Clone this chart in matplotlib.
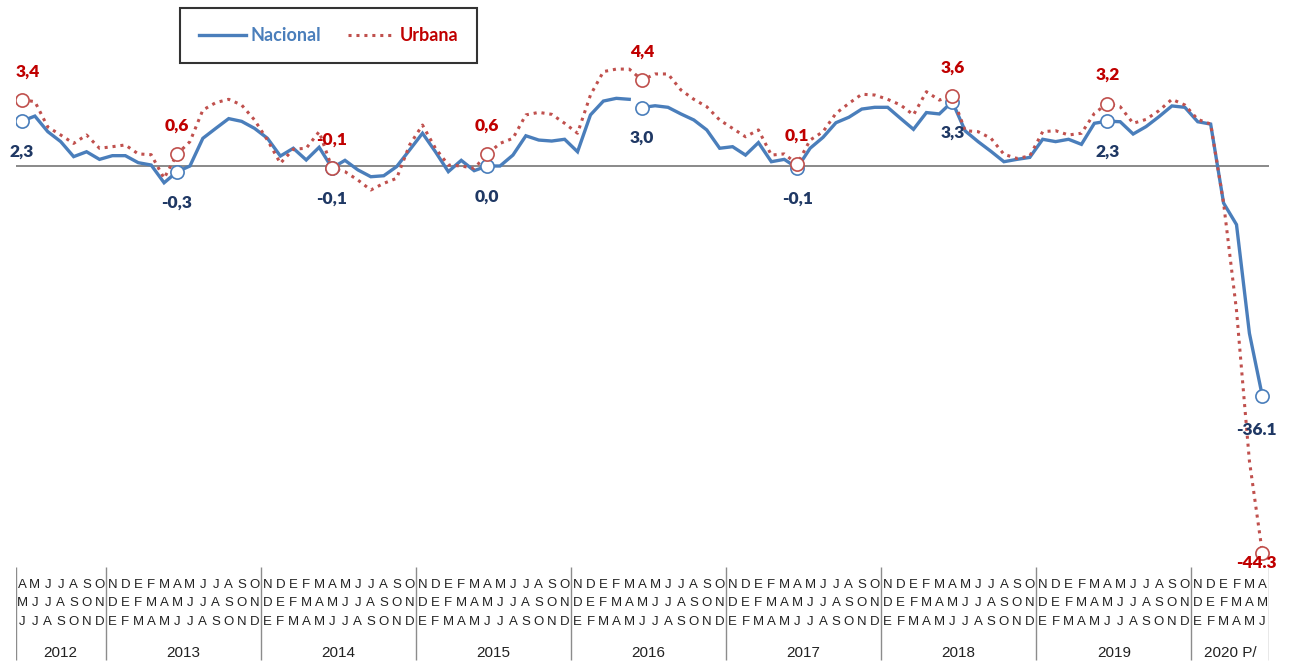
import numpy as np
import matplotlib
matplotlib.use("Agg")
import matplotlib.pyplot as plt

# ---------------- data ----------------
row1 = list("AMJJASO" + "NDEFMAMJJASO" * 7 + "NDEFMA")
row2 = list("MJJASON" + "DEFMAMJJASON" * 7 + "DEFMAM")
row3 = list("JJASOND" + "EFMAMJJASOND" * 7 + "EFMAMJ")
years = ["2012", "2013", "2014", "2015", "2016", "2017", "2018", "2019", "2020 P/"]
year_counts = [7, 12, 12, 12, 12, 12, 12, 12, 6]

nacional = [2.3, 2.56, 1.76, 1.25, 0.48, 0.73, 0.34, 0.53, 0.53, 0.17, 0.05, -0.86,
            -0.3, 0.0, 1.42, 1.93, 2.43, 2.29, 1.93, 1.42, 0.51, 0.91, 0.31, 0.96,
            -0.1, 0.29, -0.2, -0.55, -0.5, -0.03, 0.82, 1.68, 0.73, -0.29, 0.29, -0.24,
            0.0, 0.0, 0.56, 1.55, 1.33, 1.28, 1.37, 0.73, 2.62, 3.33, 3.47, 3.42,
            3.0, 3.09, 3.01, 2.67, 2.36, 1.85, 0.91, 0.99, 0.56, 1.2, 0.22, 0.34,
            -0.1, 0.91, 1.47, 2.22, 2.5, 2.92, 3.01, 3.01, 2.44, 1.88, 2.74, 2.67,
            3.3, 1.8, 1.25, 0.75, 0.22, 0.34, 0.44, 1.37, 1.25, 1.37, 1.11, 2.19,
            2.3, 2.27, 1.64, 2.02, 2.53, 3.08, 3.01, 2.27, 2.15, -1.9, -5.5, -24.9,
            -36.1]
urbana = [3.4, 3.3, 2.0, 1.59, 1.16, 1.59, 0.91, 0.99, 1.08, 0.62, 0.58, -0.63,
          0.6, 1.25, 2.87, 3.25, 3.42, 3.13, 2.36, 1.33, 0.14, 0.86, 0.91, 1.76,
          -0.1, -0.29, -0.72, -1.23, -0.89, -0.63, 1.08, 2.1, 0.91, 0.05, 0.0, -0.12,
          0.6, 1.16, 1.42, 2.62, 2.75, 2.65, 2.19, 1.68, 3.64, 4.84, 4.97, 4.97,
          4.4, 4.72, 4.72, 3.9, 3.42, 3.04, 2.36, 1.93, 1.5, 1.85, 0.56, 0.62,
          0.1, 1.33, 1.76, 2.7, 3.21, 3.68, 3.64, 3.42, 3.13, 2.62, 3.81, 3.38,
          3.6, 1.81, 1.76, 1.42, 0.6, 0.39, 0.51, 1.76, 1.81, 1.59, 1.68, 2.7,
          3.2, 3.04, 2.19, 2.39, 2.84, 3.42, 3.13, 2.39, 2.15, -1.9, -20.8, -39.5,
          -44.3]

label_idx = [0, 12, 24, 36, 48, 60, 72, 84, 96]
nacional_labels = ["2,3", "-0,3", "-0,1", "0,0", "3,0", "-0,1", "3,3", "2,3", "-36.1"]
urbana_labels = ["3,4", "0,6", "-0,1", "0,6", "4,4", "0,1", "3,6", "3,2", "-44.3"]

# ---------------- style ----------------
BLUE = "#4A7EBB"
RED = "#C0504D"
BLUE_TXT = "#1F3864"
RED_TXT = "#C00000"
W, H = 1289, 663
LAB_FONT = ["Lato", "DejaVu Sans"]
NARROW = ["Liberation Sans Narrow", "Liberation Sans", "DejaVu Sans"]

# broken (piecewise) value axis as in the original chart
brk_real = [-200.0, -36.1, -2.0, 100.0]
brk_disp = [-11.8 + (-200.0 + 36.1) * 0.98, -11.8, -2.0, 100.0]


def fwd(v):
    return np.interp(v, brk_real, brk_disp)


def inv(v):
    return np.interp(v, brk_disp, brk_real)


fig = plt.figure(figsize=(W / 100, H / 100), dpi=100)
left = 15.5 / W
width = (1268.8 - 15.5) / W
ax = fig.add_axes([left, 98 / H, width, 565 / H])
ax.set_yscale("function", functions=(fwd, inv))

x = np.arange(len(nacional))
nac = np.array(nacional)
urb = np.array(urbana)

ax.axhline(0, color="#808080", lw=1.3, zorder=1)
# Nacional line (the original has no segment between the 47th and 48th points)
ax.plot(x[:48], nac[:48], color=BLUE, lw=2.4, solid_joinstyle="miter", zorder=3, label="Nacional")
ax.plot(x[48:], nac[48:], color=BLUE, lw=2.4, solid_joinstyle="miter", zorder=3)
ax.plot(x, urb, color=RED, lw=2.2, linestyle=(0, (1, 1.6)), zorder=4, label="Urbana")

li = np.array(label_idx)
ax.plot(li, nac[li], "o", ms=9.5, mfc="white", mec=BLUE, mew=1.2, zorder=5)
ax.plot(li, urb[li], "o", ms=9.5, mfc="white", mec=RED, mew=1.2, zorder=6)

for k, i in enumerate(label_idx):
    dx_n, dy_n = 0, -22
    dx_u, dy_u = 0, 20.5
    if i == 0:
        dx_u = 4
    if i == 96:
        dx_n, dy_n = -4, -24.5
        dx_u, dy_u = -4, -7
    ax.annotate(nacional_labels[k], (i, nac[i]), xytext=(dx_n, dy_n), textcoords="offset points",
                ha="center", va="center", fontsize=12.5, fontweight="heavy", color=BLUE_TXT,
                family=LAB_FONT, zorder=7)
    ax.annotate(urbana_labels[k], (i, urb[i]), xytext=(dx_u, dy_u), textcoords="offset points",
                ha="center", va="center", fontsize=12.5, fontweight="heavy", color=RED_TXT,
                family=LAB_FONT, zorder=7)

ax.set_xlim(-0.5, len(nacional) - 0.5)
top_disp = 166 / 19.5
bot_disp = -(565 - 166) / 19.5
ax.set_ylim(float(inv(bot_disp)), float(inv(top_disp)))
ax.axis("off")

leg = ax.legend(loc="upper left", bbox_to_anchor=(180 / W, 1 - 8 / H), bbox_transform=fig.transFigure,
                ncol=2, frameon=True, fancybox=False, borderaxespad=0, borderpad=1.05,
                handlelength=2.6, handletextpad=0.25, columnspacing=1.5,
                prop={"family": LAB_FONT, "weight": "bold", "size": 13})
leg.get_frame().set_edgecolor("black")
leg.get_frame().set_linewidth(1.5)
for t, c in zip(leg.get_texts(), [BLUE, RED_TXT]):
    t.set_color(c)

# ---------------- category table below ----------------
tab = fig.add_axes([left, 0, width, 98 / H])
tab.set_xlim(-0.5, len(nacional) - 0.5)
tab.set_ylim(H, 565)
tab.axis("off")
for i in range(len(row1)):
    for r, row in zip([585, 603.3, 621.7], [row1, row2, row3]):
        tab.text(i, r, row[i], ha="center", va="center", fontsize=9.5, family=NARROW, color="#222222")
bounds = np.concatenate([[0], np.cumsum(year_counts)]) - 0.5
tab.vlines(bounds, 567, 660, color="#8C8C8C", lw=1.0)
for k, y in enumerate(years):
    cx = (bounds[k] + bounds[k + 1]) / 2
    tab.text(cx, 653, y, ha="center", va="center", fontsize=11, family=NARROW, color="#222222")

fig.savefig("out.png", dpi=100)
